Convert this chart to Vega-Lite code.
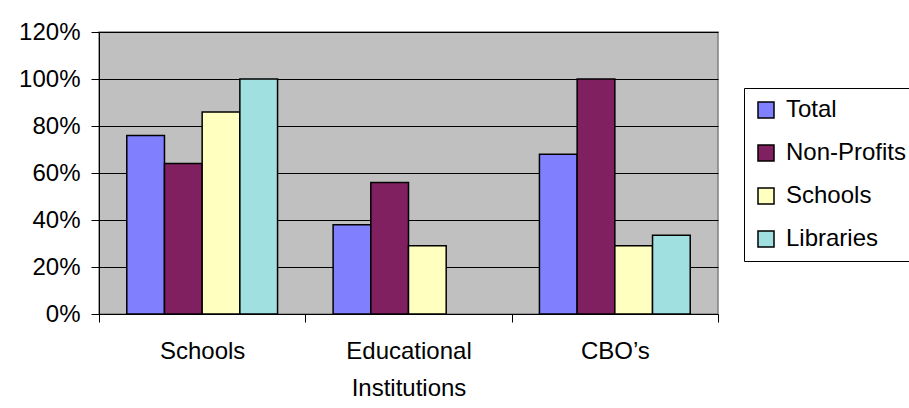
{
  "$schema": "https://vega.github.io/schema/vega-lite/v6.json",
  "autosize": {"type": "none"},
  "padding": {"left": 99, "top": 32, "right": 191, "bottom": 94},
  "width": 619,
  "height": 282,
  "background": "white",
  "data": {
    "values": [
      {"category": "Schools", "series": "Total", "value": 0.76},
      {"category": "Schools", "series": "Non-Profits", "value": 0.64},
      {"category": "Schools", "series": "Schools", "value": 0.86},
      {"category": "Schools", "series": "Libraries", "value": 1.0},
      {"category": "Educational Institutions", "series": "Total", "value": 0.38},
      {"category": "Educational Institutions", "series": "Non-Profits", "value": 0.56},
      {"category": "Educational Institutions", "series": "Schools", "value": 0.29},
      {"category": "CBO’s", "series": "Total", "value": 0.68},
      {"category": "CBO’s", "series": "Non-Profits", "value": 1.0},
      {"category": "CBO’s", "series": "Schools", "value": 0.29},
      {"category": "CBO’s", "series": "Libraries", "value": 0.335}
    ]
  },
  "mark": {"type": "bar", "stroke": "black", "strokeWidth": 1.5},
  "encoding": {
    "x": {
      "field": "category",
      "type": "nominal",
      "sort": ["Schools", "Educational Institutions", "CBO’s"],
      "scale": {"paddingInner": 0, "paddingOuter": 0},
      "axis": {
        "title": null,
        "labelAngle": 0,
        "labelFont": "Liberation Sans",
        "labelFontSize": 24,
        "labelColor": "black",
        "labelPadding": 17,
        "labelLineHeight": 37,
        "labelExpr": "split(datum.label, ' ')",
        "tickBand": "extent",
        "tickSize": 8,
        "tickColor": "black",
        "domainColor": "black",
        "domain": true
      }
    },
    "xOffset": {
      "field": "series",
      "type": "nominal",
      "scale": {"domain": ["Total", "Non-Profits", "Schools", "Libraries"], "paddingInner": 0, "paddingOuter": 0.737}
    },
    "y": {
      "field": "value",
      "type": "quantitative",
      "scale": {"domain": [0, 1.2], "nice": false},
      "axis": {
        "title": null,
        "format": ".0%",
        "values": [0, 0.2, 0.4, 0.6, 0.8, 1.0, 1.2],
        "labelFont": "Liberation Sans",
        "labelFontSize": 24,
        "labelColor": "black",
        "labelPadding": 11,
        "tickSize": 8,
        "tickColor": "black",
        "domainColor": "black",
        "grid": true,
        "gridColor": "black",
        "gridWidth": 1
      }
    },
    "color": {
      "field": "series",
      "type": "nominal",
      "scale": {
        "domain": ["Total", "Non-Profits", "Schools", "Libraries"],
        "range": ["#8080FF", "#802060", "#FFFFC0", "#A0E0E0"]
      },
      "legend": {
        "title": null,
        "orient": "none",
        "legendX": 645,
        "legendY": 56,
        "strokeColor": "black",
        "padding": 10,
        "fillColor": "white",
        "symbolType": "square",
        "symbolSize": 256,
        "symbolStrokeColor": "black",
        "symbolStrokeWidth": 1.5,
        "symbolOpacity": 1,
        "labelFont": "Liberation Sans",
        "labelFontSize": 24,
        "labelColor": "black",
        "labelOffset": 8,
        "rowPadding": 19,
        "labelLimit": 200
      }
    }
  },
  "config": {
    "view": {"fill": "#C0C0C0", "stroke": "#808080", "strokeWidth": 1.5}
  }
}
